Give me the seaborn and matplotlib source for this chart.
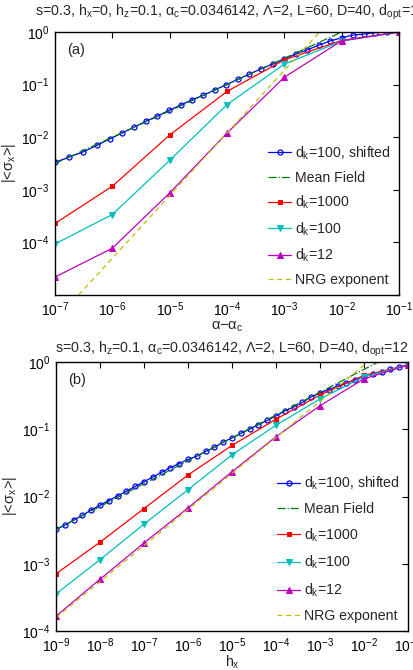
import numpy as np
import matplotlib
matplotlib.use("Agg")
import matplotlib.pyplot as plt
import seaborn as sns

# ---------------- panel (a): vs alpha - alpha_c ----------------
a_shift_x = [1.00e-7, 1.74e-7, 3.09e-7, 5.50e-7, 9.12e-7, 1.48e-6, 2.40e-6, 3.80e-6,
             6.03e-6, 9.77e-6, 1.55e-5, 2.45e-5, 3.89e-5, 6.17e-5, 9.77e-5, 1.55e-4,
             2.45e-4, 3.89e-4, 6.31e-4, 1.00e-3, 1.58e-3, 2.51e-3, 3.98e-3, 6.31e-3,
             1.00e-2, 1.55e-2, 2.45e-2, 3.89e-2, 6.17e-2, 1.00e-1]
a_shift_y = [3.31e-3, 4.17e-3, 5.25e-3, 7.08e-3, 9.33e-3, 1.20e-2, 1.55e-2, 2.00e-2,
             2.51e-2, 3.24e-2, 4.07e-2, 5.13e-2, 6.31e-2, 7.94e-2, 0.100, 0.126,
             0.158, 0.200, 0.245, 0.309, 0.380, 0.457, 0.562, 0.676,
             0.776, 0.871, 0.912, 0.977, 0.995, 1.0]
a_mf_x = [1e-7, 1e-1]
a_mf_y = [3.16e-3, 3.16]
a_x = [1e-7, 1e-6, 1e-5, 1e-4, 1e-3, 1e-2, 1e-1]
a_d1000 = [2.29e-4, 1.17e-3, 1.10e-2, 7.41e-2, 0.295, 0.692, 1.0]
a_d100 = [9.33e-5, 3.39e-4, 3.63e-3, 4.17e-2, 0.245, 0.670, 1.0]
a_d12 = [2.19e-5, 7.76e-5, 8.71e-4, 1.20e-2, 0.138, 0.680, 1.0]
a_nrg_x = [1e-7, 1e-2]
a_nrg_y = [3.24e-6, 2.88]

# ---------------- panel (b): vs h_x ----------------
b_shift_x = [1.00e-9, 1.58e-9, 2.51e-9, 3.98e-9, 6.31e-9,
             1.00e-8, 1.58e-8, 2.51e-8, 3.98e-8, 6.31e-8,
             1.00e-7, 1.58e-7, 2.51e-7, 3.98e-7, 6.31e-7,
             1.00e-6, 1.58e-6, 2.51e-6, 3.98e-6, 6.31e-6,
             1.00e-5, 1.58e-5, 2.51e-5, 3.98e-5, 6.31e-5,
             1.00e-4, 1.58e-4, 2.51e-4, 3.98e-4, 6.31e-4,
             1.00e-3, 1.58e-3, 2.51e-3, 3.98e-3, 6.31e-3,
             1.00e-2, 1.58e-2, 2.51e-2, 3.98e-2, 6.31e-2, 1.00e-1]
b_shift_y = [3.24e-3, 3.72e-3, 4.47e-3, 5.25e-3, 6.31e-3,
             7.41e-3, 8.71e-3, 1.02e-2, 1.20e-2, 1.41e-2,
             1.66e-2, 1.95e-2, 2.29e-2, 2.69e-2, 3.09e-2,
             3.55e-2, 3.98e-2, 4.68e-2, 5.37e-2, 6.46e-2,
             7.41e-2, 8.71e-2, 0.100, 0.117, 0.135,
             0.158, 0.186, 0.214, 0.251, 0.302,
             0.347, 0.389, 0.437, 0.490, 0.537,
             0.603, 0.661, 0.708, 0.776, 0.832, 0.902]
b_mf_x = [1e-9, 1e-1]
b_mf_y = [3.24e-3, 1.70]
b_x = [1e-9, 1e-8, 1e-7, 1e-6, 1e-5, 1e-4, 1e-3, 1e-2, 1e-1]
b_d1000 = [7.08e-4, 2.09e-3, 6.61e-3, 2.09e-2, 5.75e-2, 0.141, 0.324, 0.631, 0.902]
b_d100 = [3.55e-4, 1.15e-3, 3.89e-3, 1.26e-2, 4.17e-2, 0.115, 0.282, 0.603, 0.902]
b_d12 = [1.66e-4, 5.89e-4, 2.04e-3, 6.76e-3, 2.34e-2, 7.76e-2, 0.224, 0.562, 0.902]
b_nrg_x = [1e-9, 1e-1]
b_nrg_y = [1.58e-4, 3.08]

labels = ["d$_k$=100, shifted", "Mean Field", "d$_k$=1000", "d$_k$=100",
          "d$_k$=12", "NRG exponent"]

sns.set_style("white")
plt.rcParams['font.family'] = ['Liberation Sans', 'DejaVu Sans']
plt.rcParams['mathtext.default'] = 'regular'
plt.rcParams['mathtext.fontset'] = 'custom'
plt.rcParams['mathtext.rm'] = 'Liberation Sans'
plt.rcParams['mathtext.it'] = 'Liberation Sans'

fig = plt.figure(figsize=(4.14, 6.7), dpi=100)
ax_a = fig.add_axes([55 / 414, 1 - 295 / 670, 344 / 414, 263 / 670])
ax_b = fig.add_axes([56 / 414, 1 - 631 / 670, 352 / 414, 269 / 670])

lw = 0.9
ms = 3.6


def draw_panel(ax, sx, sy, mfx, mfy, x, d1000, d100, d12, nx, ny, spacing):
    sns.lineplot(x=sx, y=sy, ax=ax, color='#0000ff', lw=lw, marker='o', ms=ms,
                 mfc='none', mec='#0000ff', mew=0.9, label=labels[0], sort=False)
    sns.lineplot(x=mfx, y=mfy, ax=ax, color='#008000', lw=lw, ls='-.',
                 label=labels[1], sort=False)
    sns.lineplot(x=x, y=d1000, ax=ax, color='#ff0000', lw=lw, marker='s', ms=ms - 0.6,
                 mec='#ff0000', label=labels[2], sort=False)
    sns.lineplot(x=x, y=d100, ax=ax, color='#00bfbf', lw=lw, marker='v', ms=ms + 1,
                 mec='#00bfbf', label=labels[3], sort=False)
    sns.lineplot(x=x, y=d12, ax=ax, color='#bf00bf', lw=lw, marker='^', ms=ms + 1,
                 mec='#bf00bf', label=labels[4], sort=False)
    sns.lineplot(x=nx, y=ny, ax=ax, color='#bfbf00', lw=lw, ls=(0, (4, 3)),
                 label=labels[5], sort=False)
    ax.set_xscale('log')
    ax.set_yscale('log')
    ax.minorticks_off()
    ax.tick_params(which='both', direction='in', top=True, right=True,
                   length=4, width=0.8, labelsize=10, colors='black', pad=4)
    for sp in ax.spines.values():
        sp.set_color('black')
        sp.set_linewidth(1.0)
    ax.legend(loc='lower right', frameon=False, fontsize=10.2, handlelength=1.6,
              handletextpad=0.3, labelspacing=spacing, borderaxespad=0.15)


draw_panel(ax_a, a_shift_x, a_shift_y, a_mf_x, a_mf_y, a_x, a_d1000, a_d100, a_d12,
           a_nrg_x, a_nrg_y, 0.64)
ax_a.set_xlim(1e-7, 1e-1)
ax_a.set_ylim(1e-5, 1)
ax_a.set_xticks([1e-7, 1e-6, 1e-5, 1e-4, 1e-3, 1e-2, 1e-1])
ax_a.set_yticks([1e-5, 1e-4, 1e-3, 1e-2, 1e-1, 1])
ax_a.set_yticklabels(['', '$10^{-4}$', '$10^{-3}$', '$10^{-2}$', '$10^{-1}$', '$10^{0}$'])
ax_a.set_xticklabels(['$10^{-7}$', '$10^{-6}$', '$10^{-5}$', '$10^{-4}$',
                      '$10^{-3}$', '$10^{-2}$', '$10^{-1}$'])
# title of panel (a) runs past the right edge, as in the original
fig.text(35 / 414, 1 - 16 / 670,
         "s=0.3, h$_x$=0, h$_z$=0.1, α$_c$=0.0346142, Λ=2, L=60, D=40, d$_{opt}$=12",
         fontsize=10.3, ha='left', va='baseline')
ax_a.set_xlabel("α−α$_c$", fontsize=10.5, labelpad=0)
ax_a.set_ylabel("|<σ$_x$>|", fontsize=10.5, labelpad=2)
ax_a.text(0.035, 0.96, "(a)", transform=ax_a.transAxes, fontsize=10.5, va='top')

draw_panel(ax_b, b_shift_x, b_shift_y, b_mf_x, b_mf_y, b_x, b_d1000, b_d100, b_d12,
           b_nrg_x, b_nrg_y, 0.72)
ax_b.set_xlim(1e-9, 1e-1)
ax_b.set_ylim(1e-4, 1)
ax_b.set_xticks(b_x)
ax_b.set_xticklabels(['$10^{-%d}$' % k for k in range(9, 0, -1)])
ax_b.set_yticks([1e-4, 1e-3, 1e-2, 1e-1, 1])
ax_b.set_yticklabels(['$10^{-4}$', '$10^{-3}$', '$10^{-2}$', '$10^{-1}$', '$10^{0}$'])
ax_b.set_title("s=0.3, h$_z$=0.1, α$_c$=0.0346142, Λ=2, L=60, D=40, d$_{opt}$=12",
               fontsize=10.3, pad=7)
ax_b.set_xlabel("h$_x$", fontsize=10.2, labelpad=-1.2)
ax_b.set_ylabel("|<σ$_x$>|", fontsize=10.5, labelpad=2)
ax_b.text(0.035, 0.96, "(b)", transform=ax_b.transAxes, fontsize=10.5, va='top')

fig.savefig("out.png", dpi=100)
